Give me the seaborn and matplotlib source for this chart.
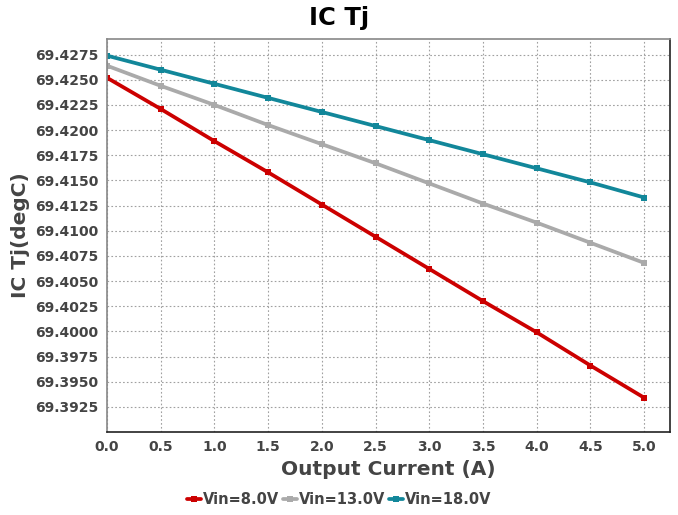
import numpy as np
import pandas as pd
import matplotlib
matplotlib.use("Agg")
import matplotlib.pyplot as plt
import seaborn as sns

current = [0.0, 0.5, 1.0, 1.5, 2.0, 2.5, 3.0, 3.5, 4.0, 4.5, 5.0]
vin8 = [69.4252, 69.4221, 69.4189, 69.4158, 69.4126, 69.4094, 69.4062, 69.4030, 69.3999, 69.3966, 69.3934]
vin13 = [69.4264, 69.4244, 69.4225, 69.4205, 69.4186, 69.4167, 69.4147, 69.4127, 69.4108, 69.4088, 69.4068]
vin18 = [69.4274, 69.4260, 69.4246, 69.4232, 69.4218, 69.4204, 69.4190, 69.4176, 69.4162, 69.4148, 69.4133]
series_names = ["Vin=8.0V", "Vin=13.0V", "Vin=18.0V"]
colors = ["#CC0000", "#AAAAAA", "#12879A"]
yticks = [69.3925, 69.3950, 69.3975, 69.4000, 69.4025, 69.4050, 69.4075, 69.4100,
          69.4125, 69.4150, 69.4175, 69.4200, 69.4225, 69.4250, 69.4275]
xticks = current

rows = []
for name, vals in zip(series_names, [vin8, vin13, vin18]):
    for x, y in zip(current, vals):
        rows.append({"Output Current (A)": x, "IC Tj(degC)": y, "series": name})
df = pd.DataFrame(rows)

sns.set_style("white")
plt.rcParams['font.family'] = ['DejaVu Sans']

fig = plt.figure(figsize=(6.78, 5.15), dpi=100)
ax = fig.add_axes([0.1578, 0.1612, 0.9882 - 0.1578, 0.9252 - 0.1612])

sns.lineplot(data=df, x="Output Current (A)", y="IC Tj(degC)", hue="series",
             palette=colors, hue_order=series_names, marker="s", markersize=5,
             markeredgewidth=0, linewidth=2.7, ax=ax, legend=True)

ax.set_xlim(0, 5.24)
ax.set_ylim(69.39, 69.4291)
ax.set_xticks(xticks)
ax.set_xticklabels([f"{v:.1f}" for v in xticks])
ax.set_yticks(yticks)
ax.set_yticklabels([f"{v:.4f}" for v in yticks])
ax.grid(True, linestyle=(0, (1.5, 2)), color="#a0a0a0", linewidth=0.8)
ax.tick_params(axis="both", labelsize=10, labelcolor="#444444", length=0, pad=6)
for lab in ax.get_xticklabels() + ax.get_yticklabels():
    lab.set_fontweight("bold")
ax.set_xlabel("Output Current (A)", fontsize=14.5, fontweight="bold", color="#444444", labelpad=4)
ax.set_ylabel("IC Tj(degC)", fontsize=14.5, fontweight="bold", color="#444444", labelpad=4)

fig.text(0.5, 0.966, "IC Tj", ha="center", va="center", fontsize=17.5,
         fontweight="bold", color="black")

ax.spines["top"].set_color("#888888")
ax.spines["left"].set_color("#888888")
ax.spines["right"].set_color("#222222")
ax.spines["bottom"].set_color("#222222")
for s in ax.spines.values():
    s.set_linewidth(1.2)

handles, labels = ax.get_legend_handles_labels()
ax.get_legend().remove()
leg = fig.legend(handles, labels, loc="center", bbox_to_anchor=(0.5, 0.03), ncol=3,
                 frameon=False, handlelength=1.0, handletextpad=0.1, columnspacing=0.25,
                 prop={"weight": "bold", "size": 10.5})
for t in leg.get_texts():
    t.set_color("#444444")

fig.savefig("out.png", dpi=100)
